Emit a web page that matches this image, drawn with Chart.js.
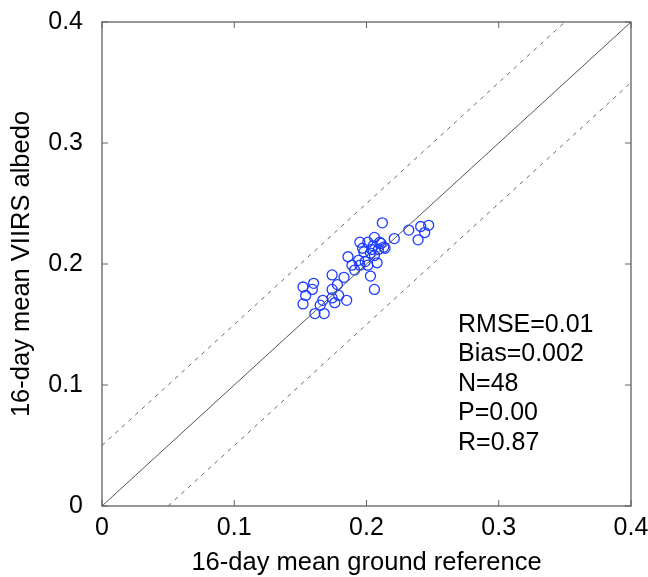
<!DOCTYPE html>
<html>
<head>
<meta charset="utf-8">
<script src="https://cdn.jsdelivr.net/npm/chart.js@4.4.1/dist/chart.umd.min.js"></script>
<style>
  html, body { margin: 0; padding: 0; background: #fff; }
  #wrap { width: 648px; height: 577px; }
</style>
</head>
<body>
<div id="wrap"><canvas id="graphique"></canvas></div>
<script>
// valeurs (x = référence sol, y = albédo VIIRS)
const solX = [0.212, 0.241, 0.247, 0.244, 0.239, 0.232, 0.221, 0.206, 0.201, 0.195,
  0.210, 0.213, 0.214, 0.209, 0.204, 0.198, 0.203, 0.206, 0.186, 0.194,
  0.199, 0.208, 0.195, 0.191, 0.201, 0.203, 0.174, 0.183, 0.160, 0.152,
  0.159, 0.154, 0.152, 0.206, 0.174, 0.179, 0.174, 0.185, 0.167, 0.176,
  0.165, 0.161, 0.168, 0.178, 0.197, 0.205, 0.211, 0.189];
const viirsY = [0.234, 0.231, 0.232, 0.226, 0.220, 0.228, 0.221, 0.222, 0.218, 0.218,
  0.218, 0.214, 0.213, 0.212, 0.212, 0.210, 0.209, 0.207, 0.206, 0.203,
  0.202, 0.201, 0.199, 0.195, 0.199, 0.190, 0.191, 0.189, 0.184, 0.181,
  0.179, 0.174, 0.167, 0.179, 0.179, 0.174, 0.172, 0.170, 0.170, 0.168,
  0.166, 0.159, 0.159, 0.183, 0.213, 0.215, 0.217, 0.199];
const ligne11 = [[0, 0], [0.4, 0.4]];
const ligneHaut = [[0, 0.05], [0.35, 0.4]];
const ligneBas = [[0.05, 0], [0.4, 0.35]];
const graduations = [0, 0.1, 0.2, 0.3, 0.4];
const statistiques = ['RMSE=0.01', 'Bias=0.002', 'N=48', 'P=0.00', 'R=0.87'];

const police = '"Liberation Sans", Arial, sans-serif';
const enPoints = paires => paires.map(p => ({ x: p[0], y: p[1] }));

// cadre fermé + graduations vers l'intérieur sur les quatre côtés
const cadre = {
  id: 'cadre',
  afterDatasetsDraw(chart) {
    const { ctx, chartArea: a, scales } = chart;
    ctx.save();
    ctx.strokeStyle = '#606060';
    ctx.lineWidth = 1.3;
    ctx.strokeRect(a.left, a.top, a.right - a.left, a.bottom - a.top);
    ctx.lineWidth = 1;
    const t = 6;
    graduations.forEach(v => {
      const px = scales.x.getPixelForValue(v);
      const py = scales.y.getPixelForValue(v);
      ctx.beginPath();
      ctx.moveTo(px, a.bottom); ctx.lineTo(px, a.bottom - t);
      ctx.moveTo(px, a.top); ctx.lineTo(px, a.top + t);
      ctx.moveTo(a.left, py); ctx.lineTo(a.left + t, py);
      ctx.moveTo(a.right, py); ctx.lineTo(a.right - t, py);
      ctx.stroke();
    });
    ctx.fillStyle = '#000';
    ctx.font = '25px ' + police;
    ctx.textBaseline = 'middle';
    statistiques.forEach((s, i) => {
      ctx.fillText(s, scales.x.getPixelForValue(0.2692), scales.y.getPixelForValue(0.1496 - i * 0.0244));
    });
    ctx.restore();
  }
};

new Chart(document.getElementById('graphique'), {
  type: 'scatter',
  data: {
    datasets: [
      {
        data: enPoints(ligne11), showLine: true, pointRadius: 0,
        borderColor: '#555', borderWidth: 1
      },
      {
        data: enPoints(ligneHaut), showLine: true, pointRadius: 0,
        borderColor: '#666', borderWidth: 1, borderDash: [4, 5]
      },
      {
        data: enPoints(ligneBas), showLine: true, pointRadius: 0,
        borderColor: '#666', borderWidth: 1, borderDash: [4, 5]
      },
      {
        data: solX.map((x, i) => ({ x: x, y: viirsY[i] })),
        pointRadius: 5, pointBorderWidth: 1.3,
        pointBorderColor: 'rgb(30, 60, 255)', pointBackgroundColor: 'rgba(0,0,0,0)'
      }
    ]
  },
  options: {
    responsive: true,
    maintainAspectRatio: false,
    animation: false,
    layout: { padding: { left: 0, right: 0, top: 22, bottom: 0 } },
    plugins: { legend: { display: false }, tooltip: { enabled: false } },
    scales: {
      x: {
        type: 'linear', min: 0, max: 0.4,
        afterBuildTicks: s => { s.ticks = graduations.map(v => ({ value: v })); },
        afterFit: s => { s.height = 71; s.paddingLeft = 0; s.paddingRight = 17; },
        grid: { display: false, drawTicks: false },
        border: { display: false },
        ticks: { color: '#000', padding: 7, font: { family: police, size: 25 }, maxRotation: 0,
          callback: v => (v === 0 ? '0' : v.toFixed(1)) },
        title: { display: true, text: '16-day mean ground reference', color: '#000',
          font: { family: police, size: 25.5, lineHeight: 1.1 }, padding: { top: 0, bottom: 0 } }
      },
      y: {
        type: 'linear', min: 0, max: 0.4,
        afterBuildTicks: s => { s.ticks = graduations.map(v => ({ value: v })); },
        afterFit: s => { s.width = 102; s.paddingTop = 0; s.paddingBottom = 0; },
        grid: { display: false, drawTicks: false },
        border: { display: false },
        ticks: { color: '#000', padding: 19, font: { family: police, size: 25 },
          callback: v => (v === 0 ? '0' : v.toFixed(1)) },
        title: { display: true, text: '16-day mean VIIRS albedo', color: '#000',
          font: { family: police, size: 25.5, lineHeight: 1.1 }, padding: { top: 8, bottom: 0 } }
      }
    }
  },
  plugins: [cadre]
});
</script>
</body>
</html>
